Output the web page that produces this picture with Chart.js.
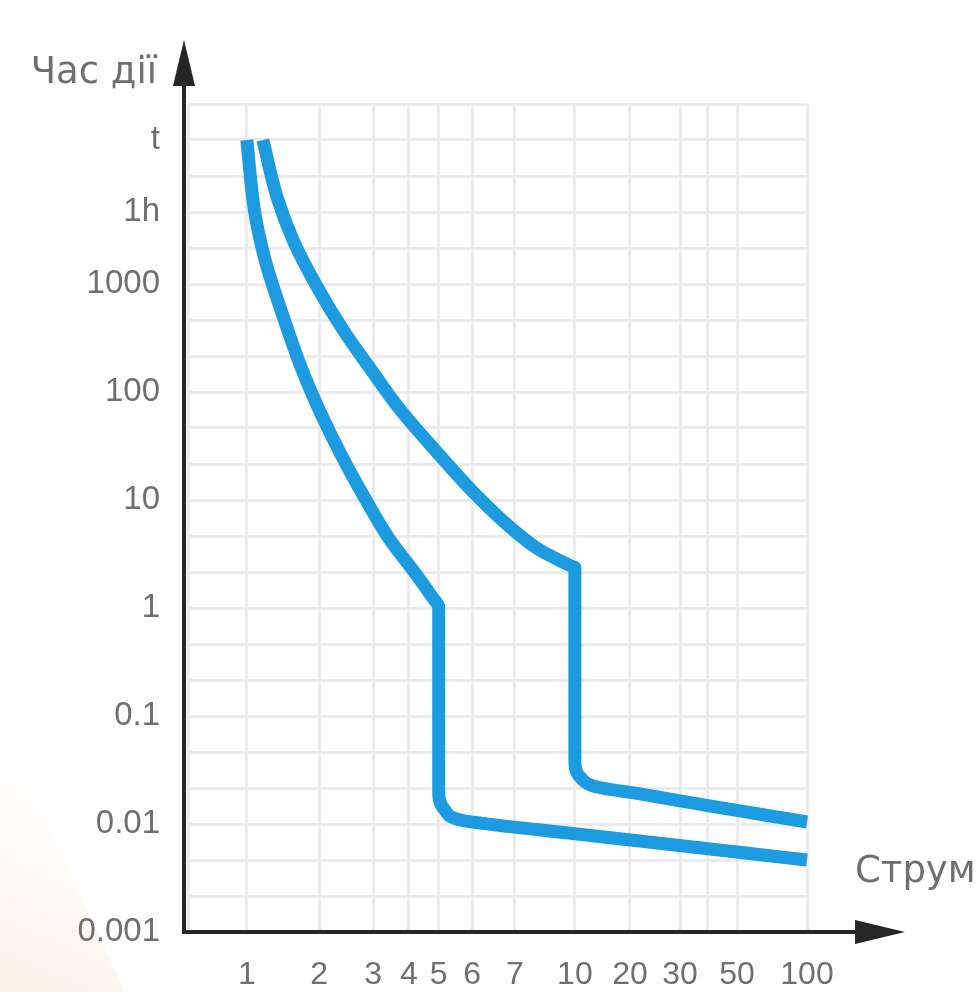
<!DOCTYPE html>
<html>
<head>
<meta charset="utf-8">
<script src="https://cdn.jsdelivr.net/npm/chart.js@4.4.1/dist/chart.umd.min.js"></script>
<style>
html, body { margin: 0; padding: 0; background: #fff; }
</style>
</head>
<body>
<canvas id="chart" width="979" height="992"></canvas>
<script>
// струм, кратність до номінального (мітки осі X)
var currentTicks = [1, 2, 3, 4, 5, 6, 7, 10, 20, 30, 40, 50, 100];
var currentLabels = ['1', '2', '3', '4', '5', '6', '7', '10', '20', '30', '', '50', '100'];
// the axis is hand drawn, so each tick sits at its own place (% of grid width)
var currentPos = [9.5, 21.2, 29.9, 35.7, 40.5, 45.9, 52.8, 62.5, 71.4, 79.5, 84.0, 88.7, 100];

// час дії, секунди
var timeTicks = [0.001, 0.01, 0.1, 1, 10, 100, 1000, 3600, 7200];
var timeLabels = ['0.001', '0.01', '0.1', '1', '10', '100', '1000', '1h', 't'];
var timeRows = [0, 3, 6, 9, 12, 15, 18, 20, 22];
var gridRows = 23;

// нижня крива (відсічка на 5)
var curveBCurrent = [1.0, 1.111, 1.264, 1.486, 1.764, 2.0, 2.389, 2.833, 3.417, 4.3, 4.8, 5.0, 5.0, 5.18, 5.64, 6.19, 10, 20.6, 40, 100];
var curveBTime = [7200, 3540, 1453, 538, 160, 68.1, 27.2, 10.7, 4.54, 1.94, 1.24, 1.02, 0.0206, 0.0135, 0.0109, 0.0102, 0.00813, 0.00706, 0.00589, 0.00464];

// верхня крива (відсічка на 10)
var curveCCurrent = [1.222, 1.417, 1.639, 1.972, 2.444, 2.981, 3.694, 4.967, 6.047, 6.884, 8.25, 9.7, 10, 10, 11.09, 14.0, 22, 40, 100];
var curveCTime = [7200, 4159, 2187, 938, 375, 156, 72.6, 27.2, 11.6, 5.62, 3.44, 2.50, 2.35, 0.0391, 0.0267, 0.0220, 0.0190, 0.0148, 0.01044];

var lineColor = '#1d9be0';
var labelColor = '#6f6f6f';
var gridColor = '#ebebef';

function interp(v, xs, ys, useLog) {
	var f = useLog ? Math.log10 : function (a) { return a };
	for (var i = 0; i < xs.length - 1; i++) {
		if (v <= xs[i + 1] || i == xs.length - 2) {
			var k = (f(v) - f(xs[i])) / (f(xs[i + 1]) - f(xs[i]));
			return ys[i] + k * (ys[i + 1] - ys[i]);
		}
	}
}

function toPoints(cur, time) {
	return cur.map(function (c, i) {
		return { x: interp(c, currentTicks, currentPos, false), y: interp(time[i], timeTicks, timeRows, true) };
	});
}

var decorations = {
	id: 'decorations',
	beforeDraw: function (chart) {
		var ctx = chart.ctx;
		ctx.save();
		ctx.fillStyle = '#fff';
		ctx.fillRect(0, 0, chart.width, chart.height);
		// faint warm corner of the original page
		var g = ctx.createLinearGradient(0, 992, 90, 800);
		g.addColorStop(0, 'rgba(250,232,212,0.55)');
		g.addColorStop(1, 'rgba(250,232,212,0)');
		ctx.fillStyle = g;
		ctx.beginPath();
		ctx.moveTo(0, 720);
		ctx.lineTo(125, 992);
		ctx.lineTo(0, 992);
		ctx.closePath();
		ctx.fill();
		ctx.restore();
	},
	afterDraw: function (chart) {
		var ctx = chart.ctx, a = chart.chartArea;
		var x0 = a.left - 4, y0 = a.bottom;
		ctx.save();
		ctx.strokeStyle = '#262626';
		ctx.fillStyle = '#262626';
		ctx.lineWidth = 4;
		ctx.beginPath();
		ctx.moveTo(x0, y0 + 2);
		ctx.lineTo(x0, a.top - 30);
		ctx.moveTo(x0 - 2, y0);
		ctx.lineTo(a.right + 60, y0);
		ctx.stroke();
		// arrows
		ctx.beginPath();
		ctx.moveTo(x0, a.top - 64);
		ctx.lineTo(x0 - 11, a.top - 18);
		ctx.lineTo(x0 + 11, a.top - 18);
		ctx.closePath();
		ctx.fill();
		ctx.beginPath();
		ctx.moveTo(a.right + 98, y0);
		ctx.lineTo(a.right + 48, y0 - 12);
		ctx.lineTo(a.right + 48, y0 + 12);
		ctx.closePath();
		ctx.fill();
		// axis names
		ctx.fillStyle = labelColor;
		ctx.font = '37px "DejaVu Sans", sans-serif';
		ctx.textAlign = 'right';
		ctx.textBaseline = 'alphabetic';
		ctx.fillText('Час дії', 157, 83);
		ctx.textAlign = 'left';
		ctx.fillText('Струм', 855, 882);
		ctx.restore();
	}
};

function curve(label, points) {
	return {
		label: label,
		data: points,
		borderColor: lineColor,
		borderWidth: 13,
		borderCapStyle: 'butt',
		borderJoinStyle: 'round',
		pointRadius: 0,
		cubicInterpolationMode: 'monotone',
		clip: false
	};
}

var ctx = document.getElementById('chart').getContext('2d');
var chart = new Chart(ctx, {
	type: 'line',
	data: {
		datasets: [
			curve('B', toPoints(curveBCurrent, curveBTime)),
			curve('C', toPoints(curveCCurrent, curveCTime))
		]
	},
	options: {
		indexAxis: 'y', // time falls steadily along both curves
		responsive: false,
		animation: false,
		devicePixelRatio: 1,
		layout: { padding: { top: 104, right: 172, bottom: 0, left: 0 } },
		plugins: { legend: { display: false }, tooltip: { enabled: false } },
		scales: {
			x: {
				type: 'linear',
				min: 0,
				max: 100,
				afterBuildTicks: function (s) {
					s.ticks = [{ value: 0 }].concat(currentPos.map(function (v) { return { value: v } }));
				},
				afterFit: function (s) { s.height = 60 },
				ticks: {
					autoSkip: false,
					maxRotation: 0,
					minRotation: 0,
					padding: 24,
					color: labelColor,
					font: { family: '"Liberation Sans", Arial, sans-serif', size: 32 },
					callback: function (v) {
						var i = currentPos.indexOf(v);
						return i < 0 ? '' : currentLabels[i];
					}
				},
				grid: { color: gridColor, lineWidth: 3, drawTicks: false },
				border: { display: false }
			},
			y: {
				type: 'linear',
				min: 0,
				max: gridRows,
				afterBuildTicks: function (s) {
					var t = [];
					for (var r = 0; r <= gridRows; r++) t.push({ value: r });
					s.ticks = t;
				},
				afterFit: function (s) { s.width = 188 },
				ticks: {
					autoSkip: false,
					padding: 28,
					color: labelColor,
					font: { family: '"Liberation Sans", Arial, sans-serif', size: 33 },
					callback: function (v) {
						var i = timeRows.indexOf(v);
						return i < 0 ? '' : timeLabels[i];
					}
				},
				grid: { color: gridColor, lineWidth: 3, drawTicks: false },
				border: { display: false }
			}
		}
	},
	plugins: [decorations]
});
</script>
</body>
</html>
